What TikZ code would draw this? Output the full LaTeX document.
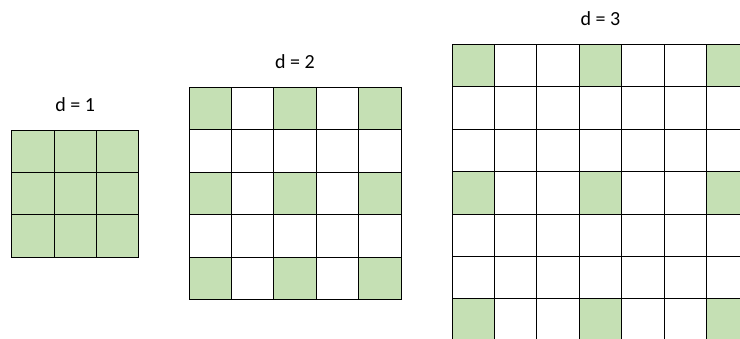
\documentclass[tikz,border=0pt]{standalone}
\usepackage{fontspec}
\setmainfont{Carlito}
\usetikzlibrary{positioning}
\definecolor{cellgreen}{HTML}{C5E0B4}

\begin{document}
\begin{tikzpicture}[
  x=1pt, y=-1pt,
  cell/.style={draw, line width=0.75pt, minimum size=42.4pt, inner sep=0pt,
               outer sep=0pt, anchor=north west},
  dlabel/.style={font=\fontsize{20}{24}\selectfont, anchor=base, inner sep=0pt}
]
\useasboundingbox (0,0) rectangle (740,338);
\clip (0,0) rectangle (740,338);

% d / grid size / top left corner
\foreach \d/\n/\ox/\oy in {1/3/11.5/130, 2/5/189/87.3, 3/7/452/44.3} {
  \pgfmathtruncatemacro\last{\n-1}
  \foreach \r in {0,...,\last}
    \foreach \c in {0,...,\last} {
      \pgfmathtruncatemacro\g{(mod(\r,\d)==0 && mod(\c,\d)==0) ? 1 : 0}
      \ifnum\g=1 \def\cellfill{cellgreen}\else\def\cellfill{white}\fi
      \node[cell, fill=\cellfill] (g\d-\r-\c) at (\ox+\c*42.4, \oy+\r*42.4) {};
    }
  \node[dlabel] (lbl\d) at (\ox+\n*21.2, \oy-18.5) {d = \d};
}
\end{tikzpicture}
\end{document}
